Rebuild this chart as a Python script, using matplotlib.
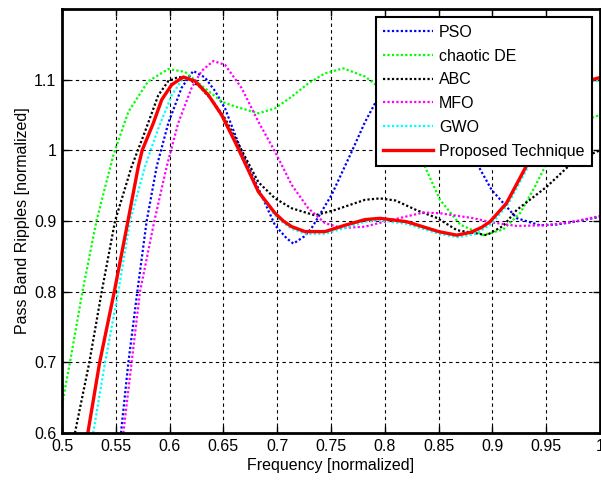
import matplotlib
matplotlib.use("Agg")
import matplotlib.pyplot as plt

plt.rcParams['font.family'] = ['Liberation Sans', 'DejaVu Sans']

# ---- data ----
pso_f = [0.5548, 0.5617, 0.570, 0.5787, 0.588, 0.5988, 0.6112, 0.622, 0.6329, 0.6422, 0.6515,
         0.667, 0.6825, 0.698, 0.7088, 0.715, 0.725, 0.732, 0.7506, 0.7692, 0.7816, 0.7925, 0.81,
         0.835, 0.86, 0.875, 0.8854, 0.8993, 0.9226, 0.944, 0.96, 0.98, 1.0]
pso_v = [0.60, 0.70, 0.80, 0.90, 0.977, 1.0386, 1.0886, 1.1124, 1.103, 1.084, 1.0594,
         0.998, 0.946, 0.894, 0.8755, 0.868, 0.878, 0.890, 0.937, 0.998, 1.04, 1.071, 1.10,
         1.122, 1.09, 1.03, 0.982, 0.944, 0.904, 0.894, 0.895, 0.90, 0.906]

de_f = [0.50, 0.5074, 0.519, 0.532, 0.5477, 0.5617, 0.580, 0.5988, 0.6143, 0.6329, 0.6484, 0.6608,
        0.6825, 0.698, 0.7135, 0.7289, 0.7444, 0.7614, 0.7816, 0.80, 0.81, 0.82, 0.8358, 0.8513,
        0.87, 0.8916, 0.91, 0.9257, 0.94, 0.9505, 0.965, 0.98, 1.0]
de_v = [0.64, 0.70, 0.80, 0.90, 0.993, 1.0546, 1.0976, 1.115, 1.111, 1.0877, 1.069, 1.062,
        1.0524, 1.0594, 1.076, 1.0948, 1.109, 1.116, 1.1045, 1.083, 1.062, 1.035, 0.982, 0.93,
        0.895, 0.880, 0.888, 0.911, 0.95, 0.982, 1.02, 1.04, 1.05]

abc_f = [0.512, 0.5254, 0.5369, 0.5493, 0.5647, 0.5771, 0.5895, 0.5988, 0.608, 0.617, 0.628, 0.64,
         0.6515, 0.667, 0.6825, 0.698, 0.7135, 0.735, 0.7537, 0.7816, 0.7955, 0.81, 0.83, 0.849,
         0.867, 0.8947, 0.91, 0.9226, 0.9505, 0.9752, 1.0]
abc_v = [0.60, 0.70, 0.80, 0.90, 0.977, 1.0264, 1.078, 1.098, 1.1037, 1.102, 1.09, 1.07,
         1.045, 1.00, 0.955, 0.932, 0.918, 0.908, 0.9156, 0.93, 0.932, 0.929, 0.915, 0.904,
         0.887, 0.880, 0.893, 0.9156, 0.9485, 0.984, 1.0]

mfo_f = [0.557, 0.5647, 0.5725, 0.5858, 0.5973, 0.608, 0.6205, 0.6298, 0.6406, 0.6515, 0.667,
         0.6825, 0.698, 0.7135, 0.7289, 0.7444, 0.76, 0.7816, 0.7995, 0.8358, 0.8513, 0.8822,
         0.8996, 0.9226, 0.95, 0.975, 1.0]
mfo_v = [0.60, 0.70, 0.80, 0.90, 0.977, 1.0386, 1.0886, 1.1124, 1.1264, 1.121, 1.088,
         1.0405, 0.998, 0.951, 0.918, 0.897, 0.890, 0.892, 0.899, 0.912, 0.911, 0.904,
         0.898, 0.893, 0.894, 0.899, 0.907]

gwo_f = [0.529, 0.540, 0.5523, 0.5632, 0.5771, 0.5895, 0.602, 0.6112, 0.617, 0.625, 0.636, 0.6484,
         0.66, 0.667, 0.6825, 0.698, 0.706, 0.7135, 0.7258, 0.7444, 0.763, 0.7816, 0.795, 0.82,
         0.85, 0.868, 0.885, 0.90, 0.915, 0.935, 0.95, 0.965, 0.98, 1.0]
gwo_v = [0.60, 0.70, 0.80, 0.90, 0.977, 1.031, 1.078, 1.0995, 1.102, 1.098, 1.078, 1.048,
         1.015, 0.99, 0.94, 0.908, 0.897, 0.889, 0.882, 0.882, 0.89, 0.899, 0.901, 0.896,
         0.882, 0.877, 0.882, 0.897, 0.925, 0.982, 1.038, 1.073, 1.093, 1.10]

prop_f = [0.524, 0.535, 0.5486, 0.5613, 0.5709, 0.5745, 0.5849, 0.5927, 0.602, 0.6128, 0.6236,
          0.636, 0.6484, 0.6608, 0.667, 0.6825, 0.698, 0.7057, 0.7135, 0.7258, 0.7444, 0.763,
          0.7816, 0.7955, 0.8203, 0.85, 0.8668, 0.88, 0.89, 0.8978, 0.913, 0.933, 0.95, 0.965,
          0.98, 1.0]
prop_v = [0.60, 0.70, 0.80, 0.90, 0.977, 1.00, 1.0386, 1.0717, 1.0929, 1.1037, 1.098,
          1.0783, 1.05, 1.012, 0.992, 0.9415, 0.911, 0.90, 0.892, 0.885, 0.885, 0.894,
          0.902, 0.9038, 0.899, 0.885, 0.880, 0.884, 0.891, 0.899, 0.925, 0.982, 1.04, 1.075,
          1.095, 1.103]

x_ticks = [0.5, 0.55, 0.6, 0.65, 0.7, 0.75, 0.8, 0.85, 0.9, 0.95, 1.0]
x_tick_labels = ['0.5', '0.55', '0.6', '0.65', '0.7', '0.75', '0.8', '0.85', '0.9', '0.95', '1']
y_ticks = [0.6, 0.7, 0.8, 0.9, 1.0, 1.1]
y_tick_labels = ['0.6', '0.7', '0.8', '0.9', '1', '1.1']

# ---- figure ----
fig = plt.figure(figsize=(6.01, 4.80), dpi=100)
ax = fig.add_axes([62 / 601, 47 / 480, 538 / 601, 424 / 480])

dot = (0, (1, 1))
lw = 1.6
ax.plot(pso_f, pso_v, color='#0000ff', linestyle=dot, linewidth=lw, label='PSO')
ax.plot(de_f, de_v, color='#00ff00', linestyle=dot, linewidth=lw, label='chaotic DE')
ax.plot(abc_f, abc_v, color='#000000', linestyle=dot, linewidth=lw, label='ABC')
ax.plot(mfo_f, mfo_v, color='#ff00ff', linestyle=dot, linewidth=lw, label='MFO')
ax.plot(gwo_f, gwo_v, color='#00ffff', linestyle=dot, linewidth=lw, label='GWO')
ax.plot(prop_f, prop_v, color='#ff0000', linestyle='-', linewidth=2.4, label='Proposed Technique')

ax.set_xlim(0.5, 1.0)
ax.set_ylim(0.6, 1.2)
ax.set_xticks(x_ticks)
ax.set_xticklabels(x_tick_labels)
ax.set_yticks(y_ticks)
ax.set_yticklabels(y_tick_labels)
ax.grid(True, color='black', linestyle=(0, (3, 3)), linewidth=0.8)
ax.tick_params(direction='in', top=True, right=True, length=5, width=1, labelsize=11.5, pad=4)
for s in ax.spines.values():
    s.set_linewidth(2)

ax.set_xlabel('Frequency [normalized]', fontsize=11.5, labelpad=3)
ax.set_ylabel('Pass Band Ripples [normalized]', fontsize=11.5, labelpad=3)

leg = ax.legend(loc='upper right', bbox_to_anchor=(0.985, 0.981), borderaxespad=0,
                fontsize=11.5, handlelength=3.1, handletextpad=0.38, labelspacing=0.55,
                fancybox=False, framealpha=1, edgecolor='black', borderpad=0.48)
leg.get_frame().set_linewidth(1.5)

fig.savefig('out.png', dpi=100)
